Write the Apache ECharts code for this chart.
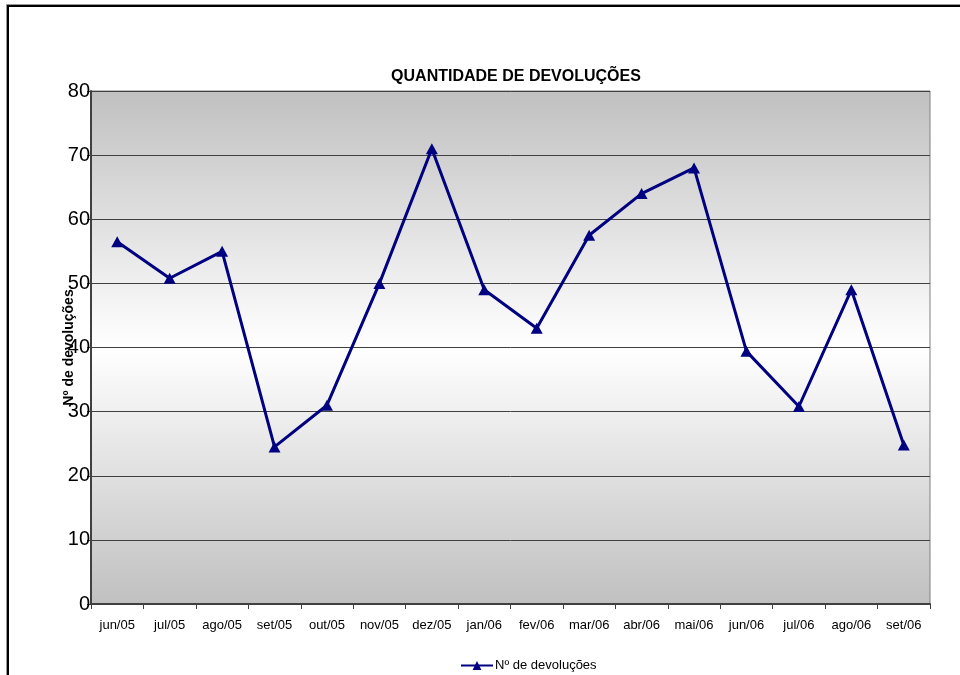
<!DOCTYPE html>
<html>
<head>
<meta charset="utf-8">
<script src="https://cdn.jsdelivr.net/npm/echarts@6/dist/echarts.min.js"></script>
<style>
html,body{margin:0;padding:0;background:#fff;}
#frame{position:absolute;left:7px;top:5px;width:1000px;height:1000px;border-left:2px solid #000;border-top:2px solid #000;box-shadow:-1px -1px 0 #999;}
#chart{position:absolute;left:0;top:0;width:960px;height:675px;}
</style>
</head>
<body>
<div id="frame"></div>
<div id="chart"></div>
<script>
const categories = ['jun/05','jul/05','ago/05','set/05','out/05','nov/05','dez/05','jan/06','fev/06','mar/06','abr/06','mai/06','jun/06','jul/06','ago/06','set/06'];
const devolucoes = [56.5, 50.8, 55, 24.5, 31, 50, 71, 49, 43, 57.5, 64, 68, 39.4, 30.8, 49, 24.8];
const seriesName = 'Nº de devoluções';
const titleText = 'QUANTIDADE DE DEVOLUÇÕES';

const chart = echarts.init(document.getElementById('chart'), null, {renderer:'canvas'});
chart.setOption({
  animation: false,
  backgroundColor: 'transparent',
  textStyle: {fontFamily: 'Liberation Sans, Arial, sans-serif'},
  title: {
    text: titleText,
    left: 511, top: 64, textAlign: 'center',
    textStyle: {fontSize: 16, fontWeight: 'bold', color: '#000', fontFamily: 'Liberation Sans, Arial, sans-serif'}
  },
  grid: {
    left: 91, right: 30, top: 91, bottom: 71,
    show: true,
    borderColor: '#808080', borderWidth: 1,
    backgroundColor: new echarts.graphic.LinearGradient(0, 0, 0, 1, [
      {offset: 0, color: '#c0c0c0'},
      {offset: 0.5, color: '#ffffff'},
      {offset: 1, color: '#c0c0c0'}
    ])
  },
  legend: {
    data: [seriesName],
    left: 455, top: 654,
    itemWidth: 32, itemHeight: 11, itemGap: 4,
    textStyle: {fontSize: 13, color: '#000', padding: [0,0,0,-3]}
  },
  xAxis: {
    type: 'category',
    data: categories,
    boundaryGap: true,
    axisLine: {lineStyle: {color: '#404040', width: 2}},
    axisTick: {show: true, length: 5, alignWithLabel: false, lineStyle: {color: '#404040', width: 1}},
    axisLabel: {fontSize: 13, color: '#000', margin: 15, interval: 0}
  },
  yAxis: {
    type: 'value',
    min: 0, max: 80, interval: 10,
    name: seriesName,
    nameLocation: 'middle',
    nameGap: 15,
    nameRotate: 90,
    nameMoveOverlap: false,
    nameTextStyle: {fontSize: 14, fontWeight: 'bold', color: '#000'},
    axisLine: {show: true, lineStyle: {color: '#404040', width: 2}},
    axisTick: {show: true, length: 4, lineStyle: {color: '#404040'}},
    axisLabel: {fontSize: 20, color: '#000', margin: 1},
    splitLine: {show: true, lineStyle: {color: '#404040', width: 1}}
  },
  series: [{
    name: seriesName,
    type: 'line',
    data: devolucoes,
    symbol: 'triangle',
    symbolSize: [12, 11],
    showAllSymbol: true,
    lineStyle: {color: '#000080', width: 3},
    itemStyle: {color: '#000080', borderWidth: 0}
  }]
});
</script>
</body>
</html>
